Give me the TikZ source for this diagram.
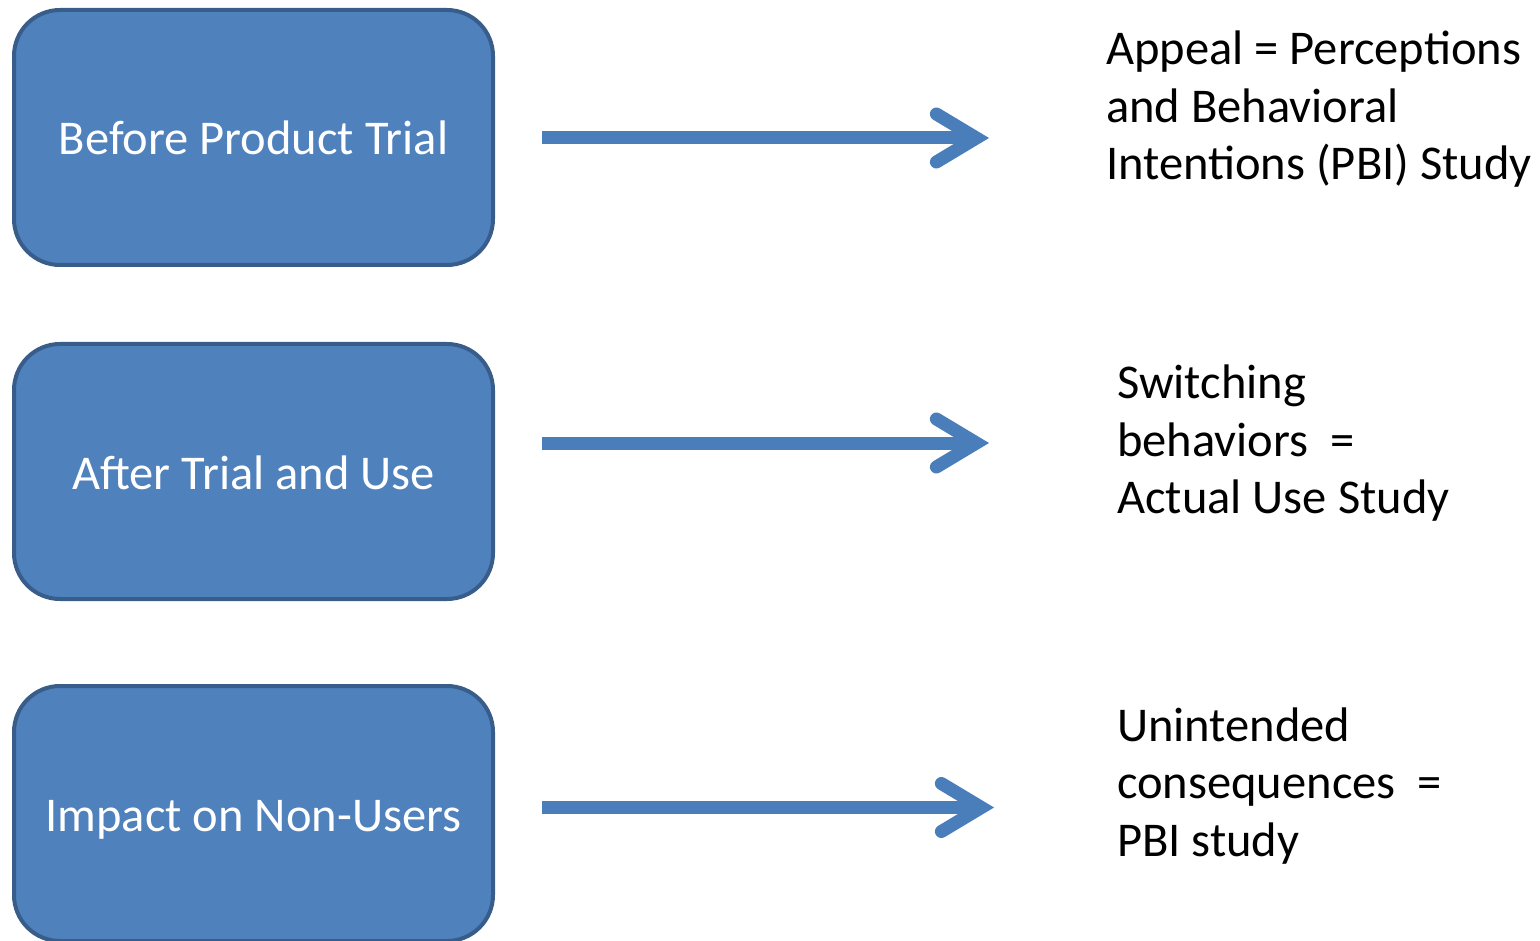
\documentclass[tikz,border=0pt]{standalone}
\usepackage{fontspec}
\setmainfont{Carlito}
\usetikzlibrary{arrows.meta}
\definecolor{boxfill}{HTML}{4F81BD}
\definecolor{boxline}{HTML}{385D8A}
\definecolor{arrowblue}{HTML}{4A7EBB}
\tikzset{
  stage/.style={draw=boxline, fill=boxfill, line width=4pt, rounded corners=46pt,
    minimum width=479pt, minimum height=255pt, inner sep=0pt,
    text=white, font=\fontsize{48.5}{57}\selectfont,
    text height=35pt, text depth=0pt},
  outcome/.style={anchor=base west, inner sep=0pt, align=flush left, text width=440pt,
    font=\fontsize{48.5}{57.5}\selectfont},
  flow/.style={draw=arrowblue, line width=13pt,
    -{Straight Barb[length=40pt, width=48pt, line cap=round, line join=miter]}},
}
\begin{document}
\begin{tikzpicture}[x=1pt, y=-1pt]
  \useasboundingbox (0,0) rectangle (1540,941);

  % stages on the left
  \node[stage] (b1) at (253.5,137.5) {Before Product Trial};
  \node[stage] (b2) at (253.5,471.5) {After Trial and Use};
  \node[stage] (b3) at (253.5,813.5) {Impact on Non-Users};

  % outcomes on the right
  \node[outcome] (t1) at (1106,65) {Appeal = Perceptions\\and Behavioral\\Intentions (PBI) Study};
  \node[outcome] (t2) at (1117,399) {Switching\\behaviors~~=\\Actual Use Study};
  \node[outcome] (t3) at (1117,741) {Unintended\\consequences~~=\\PBI study};

  % arrow ends
  \coordinate (e1) at (989,138);
  \coordinate (e2) at (989,443);
  \coordinate (e3) at (994,807.5);

  \draw[flow] ([xshift=47pt]b1.east |- e1) -- (e1);
  \draw[flow] ([xshift=47pt]b2.east |- e2) -- (e2);
  \draw[flow] ([xshift=47pt]b3.east |- e3) -- (e3);
\end{tikzpicture}
\end{document}
